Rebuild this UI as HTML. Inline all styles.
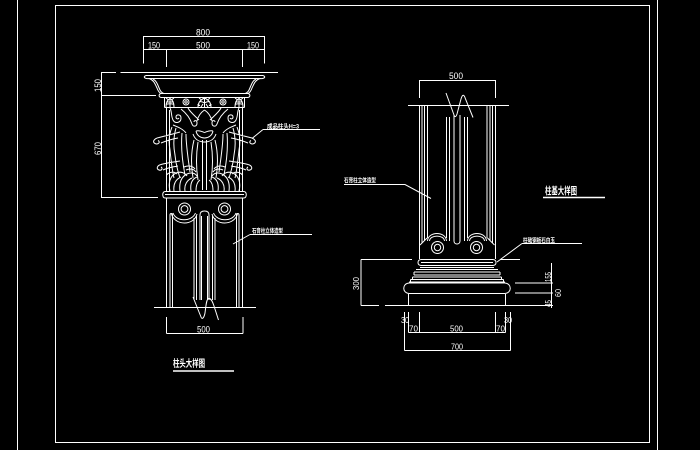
<!DOCTYPE html>
<html><head><meta charset="utf-8">
<style>
html,body{margin:0;padding:0;background:#000;}
svg{display:block;}
text{fill:#fff;stroke:none;font-family:"Liberation Sans Narrow","Liberation Sans",sans-serif;}
.cn{font-family:"Liberation Sans","Noto Sans CJK SC",sans-serif;font-weight:bold;}
</style></head>
<body>
<svg width="700" height="450" viewBox="0 0 700 450" xmlns="http://www.w3.org/2000/svg">
<rect width="700" height="450" fill="#000"/>
<g fill="none" stroke="#fff" stroke-width="1">
<!-- frame -->
<path d="M17.5,0 V450 M657.5,0 V450"/>
<rect x="55.5" y="5.5" width="594" height="437"/>

<!-- ===== LEFT: capital view ===== -->
<!-- dimensions -->
<path d="M143.5,36.5 H264.5 M143.5,36 V63.5 M264.5,36 V63.5
M143.5,49.5 H264.5 M166.5,49 V67 M242.5,49 V67
M101.5,72 V198 M101.5,72.5 H116 M101.5,95.5 H156 M101.5,197.5 H158
M120.5,72.5 H278
M154,307.5 H256
M166.5,317 V333.5 M243,317 V333.5 M166.5,333.5 H243
M263,129.5 H320 M263,129.5 L252,138.5
M250,234.5 H312 M250,234.5 L233,244"/>
<path d="M173,371 H234" stroke-width="1.6"/>

<g id="capL">
<path d="M146,75.5 H204.5 M149,78.5 H204.5 M146,75.5 C143,76.5 144,79 149,78.5
M149,78.5 C154,80 155,84 157,88 C158,91 159,92.5 161,93.5
M153,79 C157,81 158,86 160,90 C161,92 162,93 164,93.5
M161,93.5 H204.5 M161,97.5 H204.5 M161,93.5 C158.5,94 158.5,97 161,97.5
M164.5,97.5 V107.5 M164.5,107.5 H204.5
M166,107 C166,103 167,100 170,98.5 C173,100 174,103 174,107
M168,99.5 L166,98 M172,99.5 L174,98 M170,98.5 V107 M167,102 H173 M166,104.5 C168,103.5 172,103.5 174,104.5
M198,107 C198,103 200,100 204.5,98 M201,99.5 L199,98 M204.5,98 V107 M199,102 C201,101 203,102 204.5,103 M197.5,104.5 L200,105.5 M201,107 L203,104
M166.5,108 V191 M169.5,110 V191
M170,108 C172,112 171,116 173,120 C175,124 181,123 181,118 C181,114 176,114 176,117 C176,119 178,119.5 179,118
M181,109 C186,113 190,118 192,124 C193,127 197,127 197,123 C197,120 194,120 194,122
M204.5,110 C200,113 198,117 197,121
M188,108 C190,112 195,116 199,120
M173,125 C178,127 183,129 186,133
M180,132 C173,134 165,136 159,137.5 C154,138.5 152,142 155,143.5 C158,145 161,142 158,140.5
M178,138 C172,139 166,141 161,143
M172,127 C170,132 168,140 170,150 C171,160 172,170 174,178
M176,128 C174,135 173,145 175,155 C176,165 178,172 180,178
M182,133 C181,145 182,160 185,175 M186,134 C186,145 188,158 190,172
M196,131 C197,136 201,138 204.5,138 M196,131 C199,130 202,131.5 204.5,132.5 M193,134 C195,140 200,142 204.5,142
M202.5,140 V190
M198,142 C196,155 196,168 198,180 M194,140 C191,152 191,166 193,178
M180,161 C173,162 166,163 161,164.5 C157,165.5 156,169 159,170 C162,171 163,168 161,167
M178,166 C172,167 167,168 163,170
M166.5,175 C169,172 174,171 177,174
M170,191 C168,183 170,176 176,173 C181,171 185,173 187,176
M174,191 C173,184 176,179 181,177
M180,191 C179,183 181,177 187,174 C191,172 195,173 197,176
M185,191 C184,185 187,180 192,178
M191,191 C190,184 192,179 197,177
M196,191 C196,186 197,182 200,180
M184,167 C188,165 193,166 195,169 M186,170 C190,168 194,169 196,172
M165,191.5 H204.5 M165,194.5 H204.5 M165,198 H204.5 M165,191.5 C162,192 162,197.5 165,198
M166.5,198 V307
M170,215 V307 M172.5,215 V307 M170,215 C170,213 172.5,213 172.5,215
M171.5,214 C175,226 194,226 197,214 M173,213 C176,222 192,222 195.5,213
M194,218 V300 M196.5,216 V300
M200,300 V215 C200,212 202,211 204.5,211 M201.5,300 V216"/>
<circle cx="186" cy="102" r="3"/><circle cx="186" cy="102" r="1.2"/>
<circle cx="184.5" cy="209" r="6"/><circle cx="184.5" cy="209" r="3.4"/>
</g>
<use href="#capL" transform="translate(409,0) scale(-1,1)"/>
<path d="M193,297 L201,317 C202,320 204,318 205,313 C206,305 206.5,299 208.5,298.5 C210.5,298 212,300 214,306 L218.5,320"/>

<!-- ===== RIGHT: base view ===== -->
<path d="M419.5,80.5 H495.5 M419.5,80 V98 M495.5,80 V98
M408,105.5 H509
M446,93 L454,115 C455,117.5 456,117 457,114 L461,99 C462.5,94 464,94 465.5,99 L473,117.5
M419.5,105 V259 M495.5,105 V259
M422,105 V243 M424.5,105 V241 M427.5,105 V238
M487,105 V238 M490,105 V241 M492.5,105 V243
M446.5,117 V238 M449.5,117 V241 M464.5,117 V241 M467.5,117 V238
M454,115 V241 C454,245 460,245 460,241 V115
M427.5,241 C428,231 446,231 446.5,241 M429.5,241 C430,234.5 444,234.5 444.5,241
M467.5,241 C468,231 486,231 486.5,241 M469.5,241 C470,234.5 484,234.5 484.5,241
M420,245 L427,238 M494.5,245 L487.5,238
M421,259.5 H493 M421,265.5 H493 M421,262.5 H493
M421,259.5 C417,260 417,265 421,265.5 M493,259.5 C497,260 497,265 493,265.5
M420,267.5 H494 M416,269.5 H498
M414,272 H500 M414,275 H500 M414,272 V275 M500,272 V275
M412.5,277 H501.5 M410.5,279.5 H503.5 M409,282 H505
M412.5,277 V279.5 M501.5,277 V279.5 M410.5,279.5 V282 M503.5,279.5 V282
M409,283 H505 M409,293.5 H505
M409,283 C402,283.5 402,293 409,293.5 M505,283 C512,283.5 512,293 505,293.5
M408.5,293.5 V305.5 M505.5,293.5 V305.5
M385,305.5 H553
M361,259.5 V305.5 M361,259.5 H412 M361,305.5 H379
M500,259.5 H520 M515,283 H553 M515,293 H553 M551.5,263 V308
M404.5,312 V350.5 M510.5,312 V350.5
M408.5,312 V332.5 M419.5,312 V332.5 M495.5,312 V332.5 M505.5,312 V332.5
M408.5,332.5 H505.5 M404.5,350.5 H510.5
M344,184.5 H405 L431,198.5
M522,243.5 H582 M522,243.5 L497,262"/>
<circle cx="437.5" cy="247.5" r="6"/><circle cx="437.5" cy="247.5" r="3.2"/>
<circle cx="476.5" cy="247.5" r="6"/><circle cx="476.5" cy="247.5" r="3.2"/>
<path d="M543,197.5 H605" stroke-width="1.6"/>
</g>

<!-- texts -->
<g font-size="9.5">
<text x="196" y="35.5" textLength="14" lengthAdjust="spacingAndGlyphs">800</text>
<text x="148" y="48.5" textLength="12" lengthAdjust="spacingAndGlyphs">150</text>
<text x="196" y="48.5" textLength="14" lengthAdjust="spacingAndGlyphs">500</text>
<text x="247" y="48.5" textLength="12" lengthAdjust="spacingAndGlyphs">150</text>
<text transform="translate(101,92) rotate(-90)" textLength="13" lengthAdjust="spacingAndGlyphs">150</text>
<text transform="translate(101,155) rotate(-90)" textLength="13" lengthAdjust="spacingAndGlyphs">670</text>
<text x="197" y="332.5" textLength="13" lengthAdjust="spacingAndGlyphs">500</text>
<text x="449" y="79" textLength="14" lengthAdjust="spacingAndGlyphs">500</text>
</g>
<g font-size="8">
<text transform="translate(359,290) rotate(-90)" textLength="13" lengthAdjust="spacingAndGlyphs">300</text>
<text transform="translate(551,282) rotate(-90)" textLength="10" lengthAdjust="spacingAndGlyphs">155</text>
<text transform="translate(561,297) rotate(-90)" textLength="8" lengthAdjust="spacingAndGlyphs">60</text>
<text transform="translate(551,307) rotate(-90)" textLength="7" lengthAdjust="spacingAndGlyphs">45</text>
<text x="401" y="323" textLength="8" lengthAdjust="spacingAndGlyphs">30</text>
<text x="409" y="331.5" textLength="9" lengthAdjust="spacingAndGlyphs">70</text>
<text x="450" y="331.5" textLength="13" lengthAdjust="spacingAndGlyphs">500</text>
<text x="496" y="331.5" textLength="9" lengthAdjust="spacingAndGlyphs">70</text>
<text x="504" y="323" textLength="8" lengthAdjust="spacingAndGlyphs">30</text>
<text x="451" y="349.5" textLength="12" lengthAdjust="spacingAndGlyphs">700</text>
</g>
<g class="cn" font-size="6">
<text class="cn" x="267" y="128.5" textLength="32" lengthAdjust="spacingAndGlyphs">成品柱头H=3</text>
<text class="cn" x="252" y="233" textLength="31" lengthAdjust="spacingAndGlyphs">石膏柱立体造型</text>
<text class="cn" x="344" y="182.5" textLength="32" lengthAdjust="spacingAndGlyphs">石膏柱立体造型</text>
<text class="cn" x="523" y="242.5" textLength="32" lengthAdjust="spacingAndGlyphs">柱础钢板石白玉</text>
</g>
<text class="cn" x="173" y="367" font-size="10" textLength="32" lengthAdjust="spacingAndGlyphs">柱头大样图</text>
<text class="cn" x="545" y="194.5" font-size="10" textLength="32" lengthAdjust="spacingAndGlyphs">柱基大样图</text>
</svg>
</body></html>
